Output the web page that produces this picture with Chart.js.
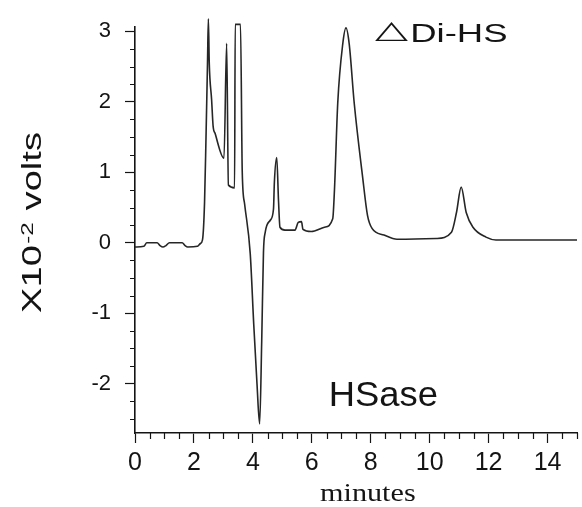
<!DOCTYPE html>
<html>
<head>
<meta charset="utf-8">
<script src="https://cdn.jsdelivr.net/npm/chart.js@4.4.1/dist/chart.umd.min.js"></script>
<style>
html,body{margin:0;padding:0;background:#fff;}
#wrap{width:582px;height:507px;position:relative;}
</style>
</head>
<body>
<div id="wrap"><canvas id="c" width="582" height="507"></canvas></div>
<script>
// ---- data ----
const minutes = [0.00,0.30,0.40,0.75,0.85,0.95,1.05,1.17,1.60,1.70,1.79,2.12,2.22,2.29,
  2.36,2.41,2.46,2.49,2.52,2.60,2.65,2.72,3.02,3.11,3.17,3.38,3.40,3.58,3.64,3.72,3.91,
  4.03,4.14,4.23,4.30,4.36,4.42,4.59,4.70,4.73,4.81,4.87,4.92,5.09,5.43,5.54,5.65,5.70,
  5.98,6.43,6.71,6.77,6.88,7.05,7.16,7.27,7.44,7.72,7.89,8.05,8.45,8.89,10.23,10.74,
  10.91,11.07,11.24,11.47,11.91,12.25,15.00];
const volts = [-0.06,-0.05,0.00,0.00,-0.04,-0.06,-0.04,0.00,0.00,-0.04,-0.06,-0.05,-0.01,0.04,
  0.57,1.50,2.54,3.18,2.55,2.03,1.66,1.55,1.20,2.83,0.82,0.78,3.10,3.10,1.00,0.55,-0.15,
  -1.16,-2.00,-2.57,-1.40,-0.13,0.15,0.32,0.48,0.86,1.21,0.60,0.22,0.18,0.18,0.29,0.30,0.19,
  0.16,0.22,0.34,0.76,1.98,2.82,3.05,2.82,1.98,0.95,0.39,0.20,0.11,0.05,0.06,0.15,
  0.43,0.79,0.43,0.22,0.08,0.04,0.04];
const xMajorTicks = [0,2,4,6,8,10,12,14];
const yMajorTicks = [-2,-1,0,1,2,3];
const xTitle = 'minutes';
const yTitleParts = ['X10','-2',' volts'];
const markSymbol = '\u25B3';
const markText = 'Di-HS';
const sampleText = 'HSase';

const INK = '#141414';
const isInList = (list, v) => list.some(t => Math.abs(t - v) < 1e-6);

function fitText(ctx, text, font, x0, x1, top, bottom) {
  ctx.save();
  ctx.font = font;
  const m = ctx.measureText(text);
  const w = m.actualBoundingBoxLeft + m.actualBoundingBoxRight;
  const h = m.actualBoundingBoxAscent + m.actualBoundingBoxDescent;
  ctx.translate(x0, top);
  ctx.scale((x1 - x0) / w, (bottom - top) / h);
  ctx.textAlign = 'left';
  ctx.textBaseline = 'alphabetic';
  ctx.fillText(text, m.actualBoundingBoxLeft, m.actualBoundingBoxAscent);
  ctx.restore();
}

const decor = {
  id: 'decor',
  afterDraw(chart) {
    const ctx = chart.ctx;
    const xs = chart.scales.x, ys = chart.scales.y;
    const area = chart.chartArea;
    ctx.save();
    // minor ticks
    ctx.strokeStyle = INK;
    ctx.lineWidth = 1.2;
    ctx.beginPath();
    xs.ticks.forEach(t => {
      if (!isInList(xMajorTicks, t.value)) {
        const p = Math.round(xs.getPixelForValue(t.value)) + 0.5;
        ctx.moveTo(p, area.bottom); ctx.lineTo(p, area.bottom + 6);
      }
    });
    ys.ticks.forEach(t => {
      if (!isInList(yMajorTicks, t.value)) {
        const p = Math.round(ys.getPixelForValue(t.value)) + 0.5;
        ctx.moveTo(area.left - 5, p); ctx.lineTo(area.left, p);
      }
    });
    ctx.stroke();

    ctx.fillStyle = INK;
    // y title (rotated, with superscript)
    ctx.save();
    ctx.translate(41, 313);
    ctx.rotate(-Math.PI / 2);
    const big = '27px "Liberation Sans", Arial, sans-serif';
    const small = '17px "Liberation Sans", Arial, sans-serif';
    ctx.font = big;
    const w1 = ctx.measureText(yTitleParts[0]).width;
    const w3 = ctx.measureText(yTitleParts[2]).width;
    ctx.font = small;
    const w2 = ctx.measureText(yTitleParts[1]).width + 2;
    ctx.scale(181 / (w1 + w2 + w3), 1);
    ctx.textBaseline = 'alphabetic';
    ctx.font = big; ctx.fillText(yTitleParts[0], 0, 0);
    ctx.font = small; ctx.fillText(yTitleParts[1], w1 + 1, -8);
    ctx.font = big; ctx.fillText(yTitleParts[2], w1 + w2, 0);
    ctx.restore();

    // x title
    fitText(ctx, xTitle, '30px "Liberation Serif", "Times New Roman", serif', 320, 415, 485, 501);
    // annotations
    fitText(ctx, markSymbol, '26px "DejaVu Sans", sans-serif', 375, 408, 22, 42);
    fitText(ctx, markText, '26px "Liberation Sans", Arial, sans-serif', 413, 507, 23, 42);
    fitText(ctx, sampleText, '32px "Liberation Sans", Arial, sans-serif', 331, 437, 382, 406);
    ctx.restore();
  }
};

new Chart(document.getElementById('c'), {
  type: 'line',
  data: {
    datasets: [{
      data: minutes.map((m, i) => ({ x: m, y: volts[i] })),
      borderColor: '#262626',
      borderWidth: 1.6,
      pointRadius: 0,
      cubicInterpolationMode: 'monotone',
      fill: false,
      clip: false
    }]
  },
  options: {
    responsive: false,
    animation: false,
    devicePixelRatio: 1,
    layout: { padding: { top: 24, right: 0, bottom: 0, left: 0 } },
    plugins: { legend: { display: false }, tooltip: { enabled: false }, title: { display: false } },
    scales: {
      x: {
        type: 'linear', min: 0, max: 15,
        afterFit(s) { s.height = 74; },
        ticks: {
          stepSize: 0.5, autoSkip: false, maxRotation: 0, includeBounds: false,
          padding: 5, color: INK,
          font: { family: '"Liberation Sans", Arial, sans-serif', size: 25 },
          callback: v => isInList(xMajorTicks, v) ? String(Math.round(v)) : ''
        },
        grid: {
          drawOnChartArea: false, drawTicks: true, tickLength: 10, tickWidth: 1.2,
          tickColor: c => (c.tick && isInList(xMajorTicks, c.tick.value)) ? INK : 'rgba(0,0,0,0)'
        },
        border: { display: true, color: INK, width: 1.6 }
      },
      y: {
        type: 'linear', min: -2.7, max: 3.06,
        afterFit(s) { s.width = 135; },
        ticks: {
          stepSize: 0.25, autoSkip: false, includeBounds: false,
          padding: 14, color: INK,
          font: { family: '"Liberation Sans", Arial, sans-serif', size: 22 },
          callback: v => isInList(yMajorTicks, v) ? String(Math.round(v)) : ''
        },
        grid: {
          drawOnChartArea: false, drawTicks: true, tickLength: 10, tickWidth: 1.2,
          tickColor: c => (c.tick && isInList(yMajorTicks, c.tick.value)) ? INK : 'rgba(0,0,0,0)'
        },
        border: { display: true, color: INK, width: 1.6 }
      }
    }
  },
  plugins: [decor]
});
</script>
</body>
</html>
